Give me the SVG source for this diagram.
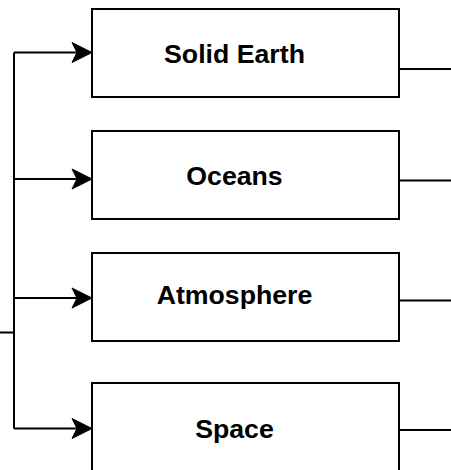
<svg xmlns="http://www.w3.org/2000/svg" width="451" height="470" viewBox="0 0 451 470">
<style>
.box{fill:#ffffff;stroke:#000000;stroke-width:2}
.lbl{font-family:"Liberation Sans",Arial,sans-serif;font-weight:bold;font-size:26.7px;fill:#000000;text-anchor:middle}
.wire{fill:none;stroke:#000000;stroke-width:2}
.head{fill:#000000;stroke:#000000;stroke-width:1}
</style>
<defs>
<path id="arr" class="head" d="M0,0 L-20,-10 L-15,0 L-20,10 Z"/>
</defs>
<rect width="451" height="470" fill="#ffffff"/>
<g id="connectors">
<path class="wire" d="M0,332.5 H14"/>
<path class="wire" d="M14,52.5 V428.5"/>
<path class="wire" d="M14,52.5 H77"/>
<path class="wire" d="M14,179 H77"/>
<path class="wire" d="M14,298 H77"/>
<path class="wire" d="M14,428.5 H77"/>
<use href="#arr" x="92" y="52.5"/>
<use href="#arr" x="92" y="179"/>
<use href="#arr" x="92" y="298"/>
<use href="#arr" x="92" y="428.5"/>
<path class="wire" d="M399,69 H451"/>
<path class="wire" d="M399,180.5 H451"/>
<path class="wire" d="M399,300.5 H451"/>
<path class="wire" d="M399,430 H451"/>
</g>
<g id="node-solid-earth">
<rect class="box" x="92" y="9" width="307" height="88"/>
<text class="lbl" x="234.5" y="63">Solid Earth</text>
</g>
<g id="node-oceans">
<rect class="box" x="92" y="131" width="307" height="88"/>
<text class="lbl" x="234.5" y="184.5">Oceans</text>
</g>
<g id="node-atmosphere">
<rect class="box" x="92" y="253" width="307" height="88"/>
<text class="lbl" x="234.5" y="303.5">Atmosphere</text>
</g>
<g id="node-space">
<rect class="box" x="92" y="383" width="307" height="88"/>
<text class="lbl" x="234.5" y="438">Space</text>
</g>
</svg>
